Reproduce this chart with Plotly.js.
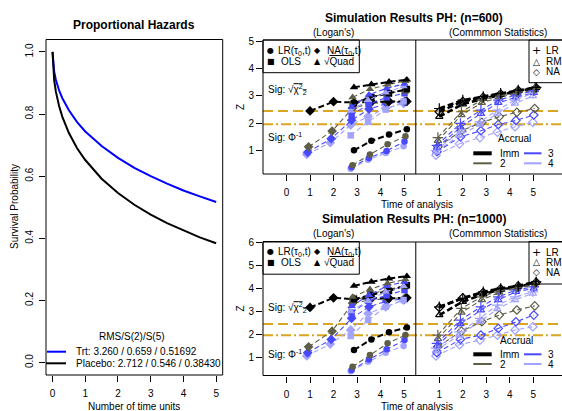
<!DOCTYPE html>
<html><head><meta charset="utf-8">
<script src="https://cdn.plot.ly/plotly-3.0.1.min.js"></script>
<style>html,body{margin:0;padding:0;background:#fff}#chart{width:562px;height:411px}</style>
</head><body><div id="chart"></div>
<script>
// ---- Survival curves (proportional hazards) ----
const survTime    = [0, 0.02, 0.05, 0.1, 0.2, 0.3, 0.5, 0.75, 1, 1.5, 2, 2.5, 3, 3.5, 4, 4.5, 5];
const survTrt     = [1, 0.959, 0.936, 0.911, 0.876, 0.851, 0.812, 0.774, 0.744, 0.697, 0.659, 0.627, 0.600, 0.576, 0.554, 0.535, 0.517];
const survPlacebo = [1, 0.941, 0.909, 0.873, 0.826, 0.791, 0.739, 0.690, 0.652, 0.592, 0.546, 0.508, 0.476, 0.449, 0.425, 0.403, 0.384];
const armLabels   = ['Trt: 3.260 / 0.659 / 0.51692', 'Placebo: 2.712 / 0.546 / 0.38430'];

// ---- Simulation results ----
const accrualNames  = ['Imm', '2', '3', '4'];
const analysisTimes = [1, 2, 2.87, 3.61, 4.36, 5.12];
const loganTimes    = [2.87, 3.61, 4.36, 5.12];
const leftTicks     = [0, 1, 2, 3, 4, 5];
const rightTicks    = [1, 2, 3, 4, 5];

// n = 600, Logan's statistics (rows: Imm, 2, 3, 4)
const naLogan600  = [[2.45,2.79,2.76,2.79,2.80,2.80],[1.13,1.71,2.55,2.72,2.78,2.80],[0.93,1.43,2.11,2.52,2.72,2.80],[0.85,1.28,1.93,2.25,2.55,2.72]];
const olsLogan600 = [[2.73,2.96,3.10,3.25],[2.70,2.95,3.10,3.20],[2.30,2.70,2.95,3.10],[1.55,2.05,2.50,2.80]];
const quadLogan600= [[3.32,3.43,3.52,3.60],[2.95,3.25,3.42,3.55],[2.60,3.05,3.28,3.45],[2.45,2.85,3.12,3.35]];
const lrLogan600  = [[1.00,1.35,1.58,1.78],[0.45,0.85,1.22,1.52],[0.38,0.72,0.98,1.33],[0.32,0.65,0.90,1.15]];
// n = 600, common statistics
const lr600  = [[2.54,2.85,2.98,3.10,3.22,3.32],[1.47,2.42,2.85,3.02,3.15,3.28],[1.18,1.99,2.48,2.85,3.03,3.19],[1.00,1.68,2.05,2.48,2.85,3.10]];
const rms600 = [[2.24,2.70,2.90,3.05,3.18,3.30],[1.35,2.30,2.75,2.95,3.10,3.22],[1.10,1.85,2.35,2.75,2.95,3.12],[0.95,1.55,1.95,2.35,2.72,3.00]];
const na600  = [[2.42,2.80,2.95,3.07,3.20,3.30],[1.13,1.72,2.03,2.24,2.40,2.54],[0.95,1.50,1.72,1.95,2.10,2.30],[0.82,1.24,1.47,1.67,1.87,2.03]];

// n = 1000, Logan's statistics
const naLogan1000  = [[3.17,3.59,3.53,3.58,3.57,3.59],[1.46,2.14,3.35,3.50,3.55,3.60],[1.20,1.78,2.70,3.20,3.45,3.55],[1.06,1.58,2.19,2.91,3.20,3.49]];
const olsLogan1000 = [[3.53,3.71,3.90,4.14],[3.40,3.75,3.95,4.10],[2.95,3.45,3.70,3.93],[1.93,2.62,3.20,3.50]];
const quadLogan1000= [[4.11,4.29,4.43,4.53],[3.63,3.96,4.22,4.39],[3.23,3.71,4.10,4.29],[3.00,3.45,3.85,4.10]];
const lrLogan1000  = [[1.32,1.78,2.09,2.30],[0.59,1.10,1.61,1.97],[0.45,0.91,1.35,1.75],[0.40,0.81,1.20,1.49]];
// n = 1000, common statistics
const lr1000  = [[3.20,3.57,3.85,4.00,4.11,4.29],[1.97,3.13,3.63,3.90,4.05,4.20],[1.61,2.62,3.20,3.63,3.93,4.07],[1.40,2.11,2.70,3.27,3.63,3.85]];
const rms1000 = [[2.84,3.42,3.75,3.95,4.08,4.25],[1.80,2.95,3.50,3.82,4.00,4.15],[1.50,2.45,3.05,3.50,3.85,4.00],[1.30,1.95,2.55,3.10,3.50,3.78]];
const na1000  = [[3.17,3.59,3.82,3.98,4.10,4.27],[1.46,2.14,2.55,2.84,3.06,3.24],[1.20,1.78,1.97,2.26,2.55,2.84],[1.06,1.55,1.75,1.97,2.19,2.33]];

// significance boundaries
const sigChi = 2.448;   // sqrt of chi-square(2) 95% quantile
const sigPhi = 1.96;    // standard normal 97.5% quantile

// ---- styling ----
const W = 562, H = 411;
const X = p => p / W;
const Y = p => 1 - p / H;
const FONT = 'Liberation Sans, Arial, Helvetica, sans-serif';
const accrualColors = ['#000000', '#5e5e48', '#4848ff', '#a2a2ff'];
const accrualDodge  = [0, -0.06, -0.1, -0.14];
const commonOffset  = 5.5;   // right half of each panel is shifted along the shared axis
const GOLD = '#DAA520';

const traces = [];

// survival panel
traces.push({x: survTime, y: survTrt, xaxis: 'x', yaxis: 'y', mode: 'lines', line: {color: '#0000ff', width: 2}, hoverinfo: 'skip'});
traces.push({x: survTime, y: survPlacebo, xaxis: 'x', yaxis: 'y', mode: 'lines', line: {color: '#000000', width: 2}, hoverinfo: 'skip'});

function addSeries(times, rows, symbol, open, shift, ax) {
  for (let a = rows.length - 1; a >= 0; a--) {
    const col = accrualColors[a];
    const black = a === 0;
    traces.push({
      x: times.map(t => t + shift + accrualDodge[a]),
      y: rows[a],
      xaxis: 'x' + ax, yaxis: 'y' + ax,
      mode: 'lines+markers',
      line: {color: col, width: black ? (open ? 2.6 : 2) : 1.1, dash: black ? '6px,3px' : '5px,3px'},
      marker: open
        ? {symbol: symbol, size: symbol === 'cross-thin-open' ? 7.5 : 6.5, color: col, line: {color: col, width: 1.2}}
        : {symbol: symbol, size: symbol === 'diamond' ? 7.5 : (symbol === 'triangle-up' ? 7.5 : 6.5), color: col, line: {width: 0}},
      hoverinfo: 'skip'
    });
  }
}

function addPanel(ax, lrL, naL, olsL, quadL, lr, rms, na) {
  addSeries(loganTimes, lrL, 'circle', false, 0, ax);
  addSeries(analysisTimes, naL, 'diamond', false, 0, ax);
  addSeries(loganTimes, olsL, 'square', false, 0, ax);
  addSeries(loganTimes, quadL, 'triangle-up', false, 0, ax);
  addSeries(analysisTimes, na, 'diamond-open', true, commonOffset, ax);
  addSeries(analysisTimes, rms, 'triangle-up-open', true, commonOffset, ax);
  addSeries(analysisTimes, lr, 'cross-thin-open', true, commonOffset, ax);
}
addPanel(2, lrLogan600, naLogan600, olsLogan600, quadLogan600, lr600, rms600, na600);
addPanel(3, lrLogan1000, naLogan1000, olsLogan1000, quadLogan1000, lr1000, rms1000, na1000);

// ---- shapes ----
const shapes = [];
const line = (x0, y0, x1, y1, color, width, dash) => shapes.push({type: 'line', xref: 'paper', yref: 'paper', x0: X(x0), y0: Y(y0), x1: X(x1), y1: Y(y1), line: {color: color, width: width, dash: dash || 'solid'}});
const rect = (x0, y0, x1, y1) => shapes.push({type: 'rect', xref: 'paper', yref: 'paper', x0: X(x0), y0: Y(y0), x1: X(x1), y1: Y(y1), line: {color: '#000', width: 1}, fillcolor: 'rgba(0,0,0,0)'});

rect(46, 39.5, 222.7, 375);
rect(263, 40, 600, 174);
rect(263, 242, 600, 375.5);
[['x2', 40, 174], ['x3', 242, 375.5]].forEach(([xr, t, b]) => {
  shapes.push({type: 'line', xref: xr, yref: 'paper', x0: commonOffset, x1: commonOffset, y0: Y(b), y1: Y(t), line: {color: '#000', width: 1}});
});
['2', '3'].forEach(ax => {
  shapes.push({type: 'line', xref: 'x' + ax + ' domain', yref: 'y' + ax, x0: 0, x1: 1, y0: sigChi, y1: sigChi, line: {color: GOLD, width: 2, dash: '10px,5px'}, layer: 'below'});
  shapes.push({type: 'line', xref: 'x' + ax + ' domain', yref: 'y' + ax, x0: 0, x1: 1, y0: sigPhi, y1: sigPhi, line: {color: GOLD, width: 2, dash: '10px,3px,2px,3px'}, layer: 'below'});
});

// survival legend keys
line(47, 351.7, 66, 351.7, '#0000ff', 2);
line(46, 363.3, 66, 363.3, '#000000', 2);

// ---- annotations ----
const annotations = [];
function txt(text, x, y, o) {
  o = o || {};
  annotations.push(Object.assign({text: text, xref: 'paper', yref: 'paper', x: X(x), y: Y(y), showarrow: false,
    xanchor: 'center', yanchor: 'middle', font: {family: FONT, size: 10, color: '#000'}}, o));
}

txt('<b>Proportional Hazards</b>', 134, 25, {font: {family: FONT, size: 12, color: '#000'}});
txt('Survival Probability', 14, 207, {textangle: -90});
txt('Number of time units', 134, 406);
txt('RMS/S(2)/S(5)', 131.7, 336);
txt(armLabels[0], 74, 351.7, {xanchor: 'left'});
txt(armLabels[1], 74, 363.3, {xanchor: 'left'});

const sym = {family: 'DejaVu Sans, sans-serif', size: 8, color: '#000'};

function rightPanel(dy, n, legRows, sigY, accY, accLineY, commonRows) {
  txt('<b>Simulation Results PH: (n=' + n + ')</b>', 414, 18 + dy, {font: {family: FONT, size: 12, color: '#000'}});
  txt("(Logan's)", 333, 32 + dy);
  txt('(Commmon Statistics)', 498, 32 + dy);
  txt('Z', 240, legRows.zy, {textangle: -90});
  txt('Time of analysis', 416.5, legRows.tx);
  // Logan legend
  rect(263, 40 + dy, 359.3, 72.7 + dy);
  txt('●', 270.7, legRows.r1, {font: sym});
  txt('LR(τ<sub>0</sub>,t)', 276, legRows.r1, {xanchor: 'left'});
  txt('◆', 317.3, legRows.r1, {font: sym});
  txt('NA(τ<sub>0</sub>,t)', 325, legRows.r1, {xanchor: 'left'});
  txt('■', 270.7, legRows.r2, {font: sym});
  txt('OLS', 279, legRows.r2, {xanchor: 'left'});
  txt('▲', 317.3, legRows.r2, {font: sym});
  txt("√<span style='text-decoration:overline'>Quad</span>", 322, legRows.r2, {xanchor: 'left'});
  // significance labels
  txt("Sig: √<span style='text-decoration:overline'>χ<sup>2</sup><sub>2</sub></span>", 266, sigY[0], {xanchor: 'left'});
  txt('Sig: Φ<sup>-1</sup>', 266, sigY[1], {xanchor: 'left'});
  // common statistics legend
  rect(529, 40 + dy, 600, commonRows[3]);
  const osym = {family: 'DejaVu Sans, sans-serif', size: 9, color: '#000'};
  txt('+', 536.7, commonRows[0], {font: {family: 'DejaVu Sans, sans-serif', size: 11, color: '#000'}});
  txt('LR', 544, commonRows[0], {xanchor: 'left'});
  txt('△', 536.7, commonRows[1], {font: osym});
  txt('RMS', 544, commonRows[1], {xanchor: 'left'});
  txt('◇', 536.7, commonRows[2], {font: osym});
  txt('NA', 544, commonRows[2], {xanchor: 'left'});
  // accrual legend
  txt('Accrual', accY[0], accY[1]);
  line(473.3, accLineY[0], 491.7, accLineY[0], accrualColors[0], 4);
  line(473.3, accLineY[1], 491.7, accLineY[1], accrualColors[1], 2);
  line(524, accLineY[0], 541.5, accLineY[0], accrualColors[2], 2);
  line(524, accLineY[1], 541.5, accLineY[1], accrualColors[3], 2);
  txt(accrualNames[0], 497.5, accLineY[0], {xanchor: 'left'});
  txt(accrualNames[1], 498.5, accLineY[1], {xanchor: 'left'});
  txt(accrualNames[2], 546, accLineY[0], {xanchor: 'left'});
  txt(accrualNames[3], 546, accLineY[1], {xanchor: 'left'});
}
rightPanel(0, 600, {r1: 50.7, r2: 61.3, zy: 107, tx: 204}, [89.3, 137.3], [514, 138.3], [153.3, 163.3], [51, 61.7, 71.7, 82.7]);
rightPanel(201.5, 1000, {r1: 251.7, r2: 262.7, zy: 308.5, tx: 406.5}, [307.3, 354], [516.7, 340], [354.3, 364], [252.3, 262.3, 272.3, 284]);

// ---- axes ----
const tickFont = {family: FONT, size: 10, color: '#000'};
const baseAxis = {showgrid: false, zeroline: false, showline: false, ticks: 'outside', ticklen: 6, tickwidth: 1, tickcolor: '#000', tickfont: tickFont, fixedrange: true};
const rightX = Object.assign({}, baseAxis, {
  range: [-1.0, 11.72],
  tickvals: leftTicks.concat(rightTicks.map(t => t + commonOffset)),
  ticktext: leftTicks.concat(rightTicks).map(String),
  ticklabelstandoff: 3
});

const layout = {
  width: W, height: H,
  margin: {l: 0, r: 0, t: 0, b: 0},
  paper_bgcolor: '#fff', plot_bgcolor: 'rgba(0,0,0,0)',
  showlegend: false,
  font: {family: FONT, size: 10, color: '#000'},
  xaxis: Object.assign({}, baseAxis, {domain: [X(46), X(222.7)], range: [-0.2, 5.2], tickvals: leftTicks, anchor: 'y', ticklabelstandoff: 3}),
  yaxis: Object.assign({}, baseAxis, {domain: [Y(375), Y(39.5)], range: [-0.04, 1.04], tickvals: [0, 0.2, 0.4, 0.6, 0.8, 1], ticktext: ['0.0', '0.2', '0.4', '0.6', '0.8', '1.0'], tickangle: -90, anchor: 'x', ticklabelstandoff: 2}),
  xaxis2: Object.assign({}, rightX, {domain: [X(263), 1], anchor: 'y2'}),
  yaxis2: Object.assign({}, baseAxis, {domain: [Y(174), Y(40)], range: [0.13, 5.06], tickvals: [1, 2, 3, 4, 5], anchor: 'x2'}),
  xaxis3: Object.assign({}, rightX, {domain: [X(263), 1], anchor: 'y3'}),
  yaxis3: Object.assign({}, baseAxis, {domain: [Y(375.5), Y(242)], range: [0.21, 6.02], tickvals: [1, 2, 3, 4, 5, 6], anchor: 'x3'}),
  shapes: shapes,
  annotations: annotations
};

Plotly.newPlot('chart', traces, layout, {staticPlot: true, displayModeBar: false});
</script>
</body></html>
